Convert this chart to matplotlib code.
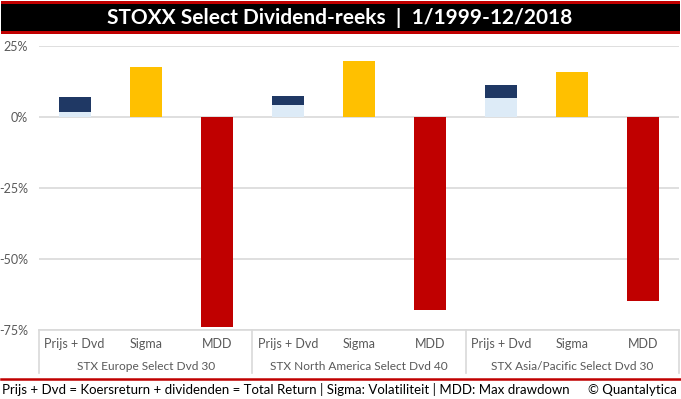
import matplotlib
matplotlib.use("Agg")
import matplotlib.pyplot as plt
from matplotlib.patches import Rectangle
from matplotlib.lines import Line2D
import numpy as np

plt.rcParams['font.family'] = ['Lato', 'DejaVu Sans']

groups = ["STX Europe Select Dvd 30", "STX North America Select Dvd 40", "STX Asia/Pacific Select Dvd 30"]
categories = ["Prijs + Dvd", "Sigma", "MDD"]
koers = [1.9, 4.3, 6.8]        # price return part (light)
dividend = [5.2, 3.2, 4.6]     # dividend part (dark, stacked)
sigma = [17.7, 19.8, 16.0]
mdd = [-73.7, -67.9, -64.6]
yticks = [25, 0, -25, -50, -75]
ytick_labels = ["25%", "0%", "-25%", "-50%", "-75%"]

title = "STOXX Select Dividend-reeks  |  1/1999-12/2018"
footer = "Prijs + Dvd = Koersreturn + dividenden = Total Return | Sigma: Volatiliteit | MDD: Max drawdown"
credit = "© Quantalytica"

c_light = "#DDEBF7"
c_dark = "#1F3864"
c_yellow = "#FFC000"
c_red = "#C00000"
c_grid = "#D9D9D9"
c_text = "#595959"

W, H = 681, 399
fig = plt.figure(figsize=(W / 100, H / 100), dpi=100)

# title bar
fig.patches.append(Rectangle((1 / W, 1 - 34 / H), 679 / W, 33 / H, transform=fig.transFigure,
                             facecolor=c_red, edgecolor="none"))
fig.patches.append(Rectangle((1 / W, 1 - 31 / H), 679 / W, 27 / H, transform=fig.transFigure,
                             facecolor="black", edgecolor="none"))
fig.text(340 / W, 1 - 17.5 / H, title, color="white", fontsize=15, fontweight="bold",
         ha="center", va="center")

# plot area
left, right = 39 / W, 679 / W
top, bottom = 1 - 46.3 / H, 1 - 330.3 / H
ax = fig.add_axes([left, bottom, right - left, top - bottom])
ax.set_xlim(0, 9)
ax.set_ylim(-75, 25)
for s in ["top", "right", "left"]:
    ax.spines[s].set_visible(False)
ax.spines["bottom"].set_color(c_grid)
ax.spines["bottom"].set_linewidth(1.2)
ax.set_yticks(yticks)
ax.set_yticklabels(ytick_labels)
ax.tick_params(axis="y", length=0, pad=8, labelsize=9, labelcolor=c_text)
ax.yaxis.grid(True, color=c_grid, linewidth=1.2)
ax.set_axisbelow(True)

n = len(groups)
xp = np.arange(n) * 3 + 0.5
xs = np.arange(n) * 3 + 1.5
xm = np.arange(n) * 3 + 2.5
bw = 0.45
ax.bar(xp, koers, width=bw, color=c_light, zorder=3)
ax.bar(xp, dividend, width=bw, bottom=koers, color=c_dark, zorder=3)
ax.bar(xs, sigma, width=bw, color=c_yellow, zorder=3)
ax.bar(xm, mdd, width=bw, color=c_red, zorder=3)

# category ticks / labels
ax.set_xticks([])
ah = 284.0
for g in range(n):
    for k, cat in enumerate(categories):
        ax.text(g * 3 + 0.5 + k, -(344 - 330.3) / ah, cat, transform=ax.get_xaxis_transform(),
                ha="center", va="center", fontsize=9, color=c_text)
    ax.text(g * 3 + 1.5, -(366.5 - 330.3) / ah, groups[g], transform=ax.get_xaxis_transform(),
            ha="center", va="center", fontsize=8.6, color=c_text)
for xb in [0, 3, 6, 9]:
    ax.add_line(Line2D([xb, xb], [0, -(373 - 330.3) / ah], transform=ax.get_xaxis_transform(),
                       color=c_grid, linewidth=1.2, clip_on=False))

# footer
fig.add_artist(Line2D([1 / W, 680 / W], [1 - 378.5 / H, 1 - 378.5 / H], transform=fig.transFigure,
                      color=c_red, linewidth=1.8))
fig.text(2 / W, 1 - 390 / H, footer, fontsize=9.5, color="black", ha="left", va="center")
fig.text(677 / W, 1 - 390 / H, credit, fontsize=9.5, color="black", ha="right", va="center")

fig.savefig("out.png", dpi=100)
